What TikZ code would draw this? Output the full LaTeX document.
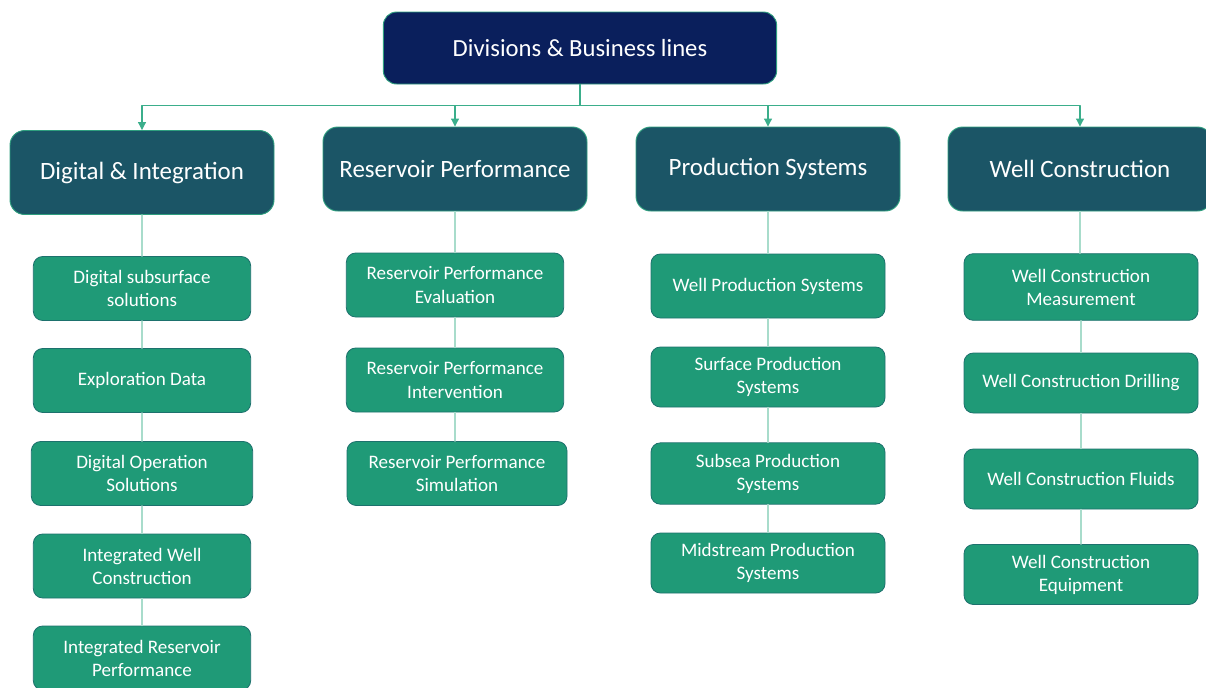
\documentclass[tikz,border=0pt]{standalone}
\usepackage{fontspec}
\setmainfont{Carlito}
\usetikzlibrary{arrows.meta}

\definecolor{topblue}{HTML}{0A1F5C}
\definecolor{headteal}{HTML}{1B5566}
\definecolor{boxgreen}{HTML}{1F9A77}
\definecolor{edgegreen}{HTML}{2E9E7E}
\definecolor{linkgreen}{HTML}{3BAE8B}
\definecolor{mint}{HTML}{A8DCCB}

\begin{document}
\begin{tikzpicture}[x=0.75pt,y=-0.75pt,line cap=round,line join=round,
    topbox/.style={draw=edgegreen,line width=0.7pt,fill=topblue,text=white,rounded corners=10pt,
      minimum width=295pt,minimum height=54pt,font=\fontsize{18.5}{21}\selectfont},
    headbox/.style={draw=edgegreen,line width=0.7pt,fill=headteal,text=white,rounded corners=11pt,
      minimum width=198pt,minimum height=63pt,font=\fontsize{18.7}{22}\selectfont},
    subbox/.style={draw=headteal!60!boxgreen,line width=0.6pt,fill=boxgreen,text=white,rounded corners=7pt,
      minimum width=163pt,minimum height=48pt,align=center,font=\fontsize{14.3}{17.25}\selectfont},
    wide/.style={minimum width=175.5pt},
    toplink/.style={draw=linkgreen,line width=0.8pt,-{Triangle[width=6pt,length=6pt]}},
    collink/.style={draw=mint,line width=0.9pt}]
  \path[use as bounding box,clip] (0,0) rectangle (1206,687);

  % top of the chart
  \node[topbox] (top) at (580,48) {Divisions \& Business lines};

  % divisions
  \node[headbox] (di) at (142,172.5) {Digital \& Integration};
  \node[headbox] (rp) at (455,169) {Reservoir Performance};
  \node[headbox] (ps) at (768,169) {Production Systems};
  \node[headbox] (wc) at (1080,169) {Well Construction};

  % business lines, Digital & Integration
  \node[subbox] (di1) at (142,288.5) {Digital subsurface\\solutions};
  \node[subbox] (di2) at (142,380.5) {Exploration Data};
  \node[subbox,minimum width=166pt] (di3) at (142,473.5) {Digital Operation\\Solutions};
  \node[subbox] (di4) at (142,566) {Integrated Well\\Construction};
  \node[subbox] (di5) at (142,658) {Integrated Reservoir\\Performance};

  % business lines, Reservoir Performance
  \node[subbox] (rp1) at (455,285) {Reservoir Performance\\Evaluation};
  \node[subbox] (rp2) at (455,380) {Reservoir Performance\\Intervention};
  \node[subbox,minimum width=165pt] (rp3) at (457,473.5) {Reservoir Performance\\Simulation};

  % business lines, Production Systems
  \node[subbox,wide] (ps1) at (768,286) {Well Production Systems};
  \node[subbox,wide,minimum height=45pt] (ps2) at (768,377) {Surface Production\\Systems};
  \node[subbox,wide,minimum height=46pt] (ps3) at (768,473.5) {Subsea Production\\Systems};
  \node[subbox,wide,minimum height=45pt] (ps4) at (768,563) {Midstream Production\\Systems};

  % business lines, Well Construction
  \node[subbox,wide,minimum height=50pt] (wc1) at (1081,287) {Well Construction\\Measurement};
  \node[subbox,wide,minimum height=45pt] (wc2) at (1081,383) {Well Construction Drilling};
  \node[subbox,wide,minimum height=45pt] (wc3) at (1081,479) {Well Construction Fluids};
  \node[subbox,wide,minimum height=45pt] (wc4) at (1081,574.5) {Well Construction\\Equipment};

  % links
  \foreach \h in {di,rp,ps,wc}
    \draw[toplink] (top.south) -- ++(0,21) -| (\h.north);
  \foreach \a/\b in {di/di1,di1/di2,di2/di3,di3/di4,di4/di5,rp/rp1,rp1/rp2,rp2/rp3,
                     ps/ps1,ps1/ps2,ps2/ps3,ps3/ps4,wc/wc1,wc1/wc2,wc2/wc3,wc3/wc4}
    \draw[collink] (\a.south) -- (\a.south |- \b.north);
\end{tikzpicture}
\end{document}
